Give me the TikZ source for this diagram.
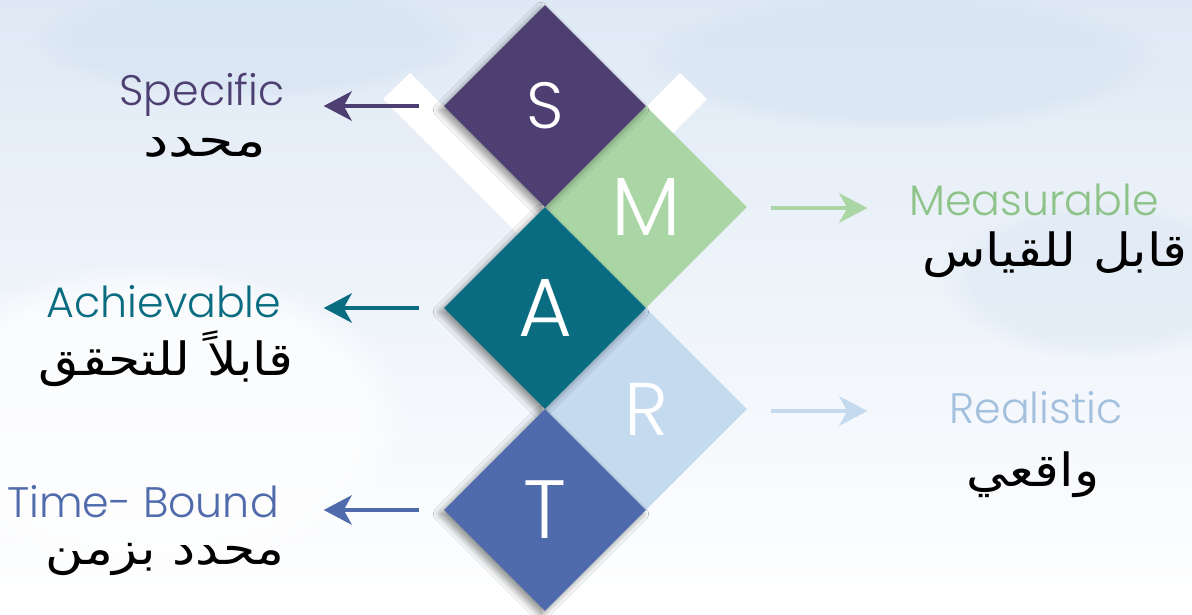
\documentclass[tikz,border=0pt]{standalone}
\usepackage{fontspec}
\setmainfont{Poppins}[UprightFont=* Light]
\newfontfamily\arabicfont[Script=Arabic]{DejaVu Sans}
\TeXXeTstate=1
\usetikzlibrary{shapes.geometric,arrows.meta,shadows.blur,fadings}
\definecolor{cS}{HTML}{4E3F72}
\definecolor{cM}{HTML}{AAD6A6}
\definecolor{cA}{HTML}{096C80}
\definecolor{cR}{HTML}{C4DAEF}
\definecolor{cT}{HTML}{4F6BAB}
\definecolor{tM}{HTML}{8DC389}
\definecolor{tR}{HTML}{A3C0DE}
\definecolor{bgtop}{HTML}{DFE9F5}
\definecolor{bgmid}{HTML}{EEF3F9}
\definecolor{cloud}{HTML}{D3E2F2}
\tikzset{
  dia/.style={diamond, aspect=1, inner sep=0pt, minimum width=151.5pt, minimum height=151.5pt, text=white},
  shad/.style={blur shadow={shadow xshift=-3pt, shadow yshift=-3pt, shadow blur steps=12, shadow opacity=45, shadow blur radius=5pt}},
  arr/.style={line width=3pt, -{Stealth[length=21pt, width=22pt, inset=6pt]}},
  lab/.style={font=\fontsize{32}{36}\selectfont, anchor=base, inner sep=0pt},
  ar/.style={font=\arabicfont\fontsize{39}{40}\selectfont, text=black, inner sep=0pt, yscale=0.88},
  blob/.style={path fading=circle with fuzzy edge 20 percent}
}
\begin{document}
\begin{tikzpicture}[x=0.75pt, y=-0.75pt]
\useasboundingbox (0,0) rectangle (1192,614);
% background
\shade[top color=bgtop, middle color=bgmid, bottom color=white] (0,0) rectangle (1192,614);
\fill[cloud, opacity=0.5, blob] (250,40) ellipse (220 and 60);
\fill[cloud, opacity=0.5, blob] (900,60) ellipse (260 and 70);
\fill[cloud, opacity=0.35, blob] (1100,280) ellipse (160 and 80);
\fill[white, opacity=0.7, blob] (150,420) ellipse (260 and 160);
% white chevron
\fill[white] (383,99) -- (410,73) -- (545,208) -- (680,73) -- (707,99) -- (545,261) -- cycle;
% diamonds
\node[dia, fill=cM] (M) at (646,207) {\fontsize{62}{62}\selectfont M};
\node[dia, fill=cR] (R) at (646,409) {\fontsize{56}{56}\selectfont R};
\node[dia, fill=cS, shad] (S) at (545,106) {\fontsize{49}{49}\selectfont S};
\node[dia, fill=cA, shad] (A) at (545,308) {\fontsize{62}{62}\selectfont A};
\node[dia, fill=cT, shad] (T) at (545,510) {\fontsize{62}{62}\selectfont T};
% labels
\node[lab, text=cS] (spec) at (202,105) {Specific};
\node[ar, xscale=1.1] (specar) at (205,148) {\beginR محدد\endR};
\node[lab, text=tM] (meas) at (1034,215) {Measurable};
\node[ar] (measar) at (1055,255) {\beginR قابل للقياس\endR};
\node[lab, text=cA] (ach) at (164,317) {Achievable};
\node[ar] (achar) at (166,359) {\beginR قابلاً للتحقق\endR};
\node[lab, text=tR] (real) at (1036,423) {Realistic};
\node[ar] (realar) at (1033,475) {\beginR واقعي\endR};
\node[lab, text=cT] (time) at (143,517) {Time- Bound};
\node[ar] (timear) at (165,559) {\beginR محدد بزمن\endR};
% arrows
\draw[arr, cS] (S.west) ++(-25,0) -- ++(-95,0);
\draw[arr, cA] (A.west) ++(-25,0) -- ++(-95,0);
\draw[arr, cT] (T.west) ++(-25,0) -- ++(-95,0);
\draw[arr, cM] (M.east) ++(24,1) -- ++(96,0);
\draw[arr, cR] (R.east) ++(24,2) -- ++(96,0);
\end{tikzpicture}
\end{document}
